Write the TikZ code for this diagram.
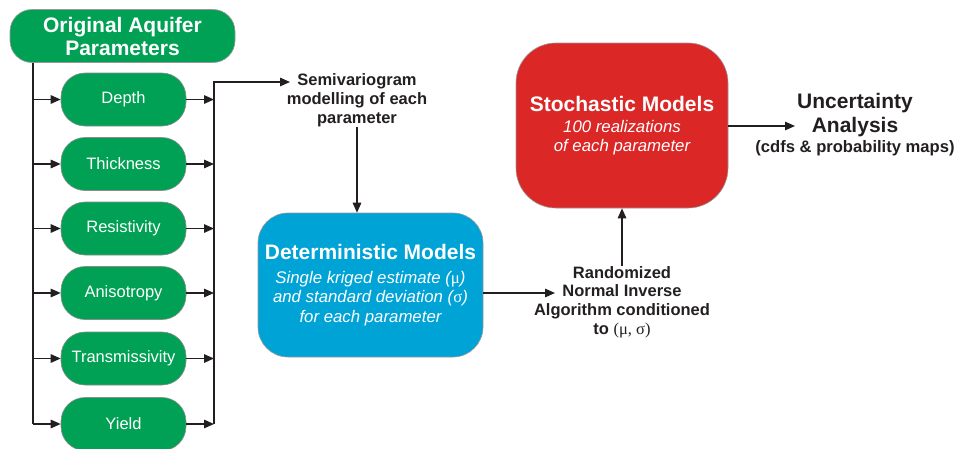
\documentclass[tikz,border=0pt]{standalone}
\usepackage{fontspec}
\setmainfont{Liberation Sans}
\newfontfamily\gk{Liberation Serif}
\usetikzlibrary{arrows.meta}
\definecolor{gbox}{RGB}{0,161,84}
\definecolor{bbox}{RGB}{0,163,214}
\definecolor{rbox}{RGB}{220,39,39}
\definecolor{ink}{RGB}{35,31,32}
\newcommand{\mygk}[1]{{\gk\upshape\mdseries #1}}
\newcommand{\ttl}{\bfseries\fontsize{21}{19.5}\selectfont}
\newcommand{\sub}{\mdseries\itshape\fontsize{16.8}{19.5}\selectfont}
\begin{document}
\begin{tikzpicture}[x=1pt,y=-1pt,
  ln/.style={line width=1.4pt, draw=ink},
  arr/.style={line width=1.4pt, draw=ink, -{Triangle[length=10pt,width=8.5pt]}},
  param/.style={draw=black!45, line width=0.6pt, fill=gbox, rounded corners=24pt,
    minimum width=125pt, minimum height=53pt, text=white, inner sep=0pt,
    font=\fontsize{16.5}{19}\selectfont},
  bigbox/.style={draw=black!40, line width=0.6pt, text=white, align=center, inner sep=0pt,
    font=\fontsize{16.8}{19.5}\selectfont},
  lab/.style={text=ink, align=center, inner sep=0pt, font=\bfseries\fontsize{16.5}{18.8}\selectfont}]
\useasboundingbox (0,0) rectangle (972,448);

% top box
\node[bigbox, fill=gbox, rounded corners=22pt, minimum width=225pt, minimum height=53pt,
  font=\bfseries\fontsize{21}{23}\selectfont] (top) at (122.5,36) {Original Aquifer\\Parameters};

% parameter boxes
\node[param] (depth) at (123.5,99.5) {Depth};
\node[param] (thick) at (123.5,164) {Thickness};
\node[param] (resis) at (123.5,228.5) {Resistivity};
\node[param] (aniso) at (123.5,293) {Anisotropy};
\node[param] (trans) at (123.5,358.5) {Transmissivity};
\node[param] (yield) at (123.5,424) {Yield};

\coordinate (lx) at (33,0);
\coordinate (rx) at (214,0);
\coordinate (semiin) at (290,82);

\draw[ln] (top.south -| lx) -- (lx |- yield.west);
\foreach \n in {depth,thick,resis,aniso,trans,yield}{
  \draw[arr] (lx |- \n.west) -- (\n.west);
  \draw[arr] (\n.east) -- (rx |- \n.east);
}
\draw[arr] (rx |- yield.east) -- (rx |- semiin) -- (semiin);

% semivariogram label
\node[lab] (semi) at (357,100) {Semivariogram\\modelling of each\\parameter};

% deterministic
\node[bigbox, fill=bbox, rounded corners=30pt, minimum width=225pt, minimum height=144pt] (det) at (370.5,285)
  {\ttl Deterministic Models\\[4.5pt]
   \sub Single kriged estimate (\mygk{μ})\\
   \sub and standard deviation (\mygk{σ})\\
   \sub for each parameter};

\draw[arr] (semi.south) -- (semi.south |- det.north);

% randomized
\node[lab] (rand) at (622,302) {Randomized\\Normal Inverse\\Algorithm conditioned\\to \mygk{(μ, σ)}};
\coordinate (rin) at (555,293);
\draw[arr] (det.east |- rin) -- (rin);

% stochastic
\node[bigbox, fill=rbox, rounded corners=40pt, minimum width=212pt, minimum height=165pt] (sto) at (622,125.5)
  {\ttl Stochastic Models\\[1.5pt]
   \sub 100 realizations\\
   \sub of each parameter};

\draw[arr] (rand.north) -- (rand.north |- sto.south);

% uncertainty
\node[lab, font=\bfseries\fontsize{21}{24}\selectfont] (unc) at (855,125) {Uncertainty\\
  Analysis\\[-4pt]
  \fontsize{16.6}{17}\selectfont (cdfs \& probability maps)};
\coordinate (uin) at (795,126);
\draw[arr] (sto.east |- uin) -- (uin);
\end{tikzpicture}
\end{document}
